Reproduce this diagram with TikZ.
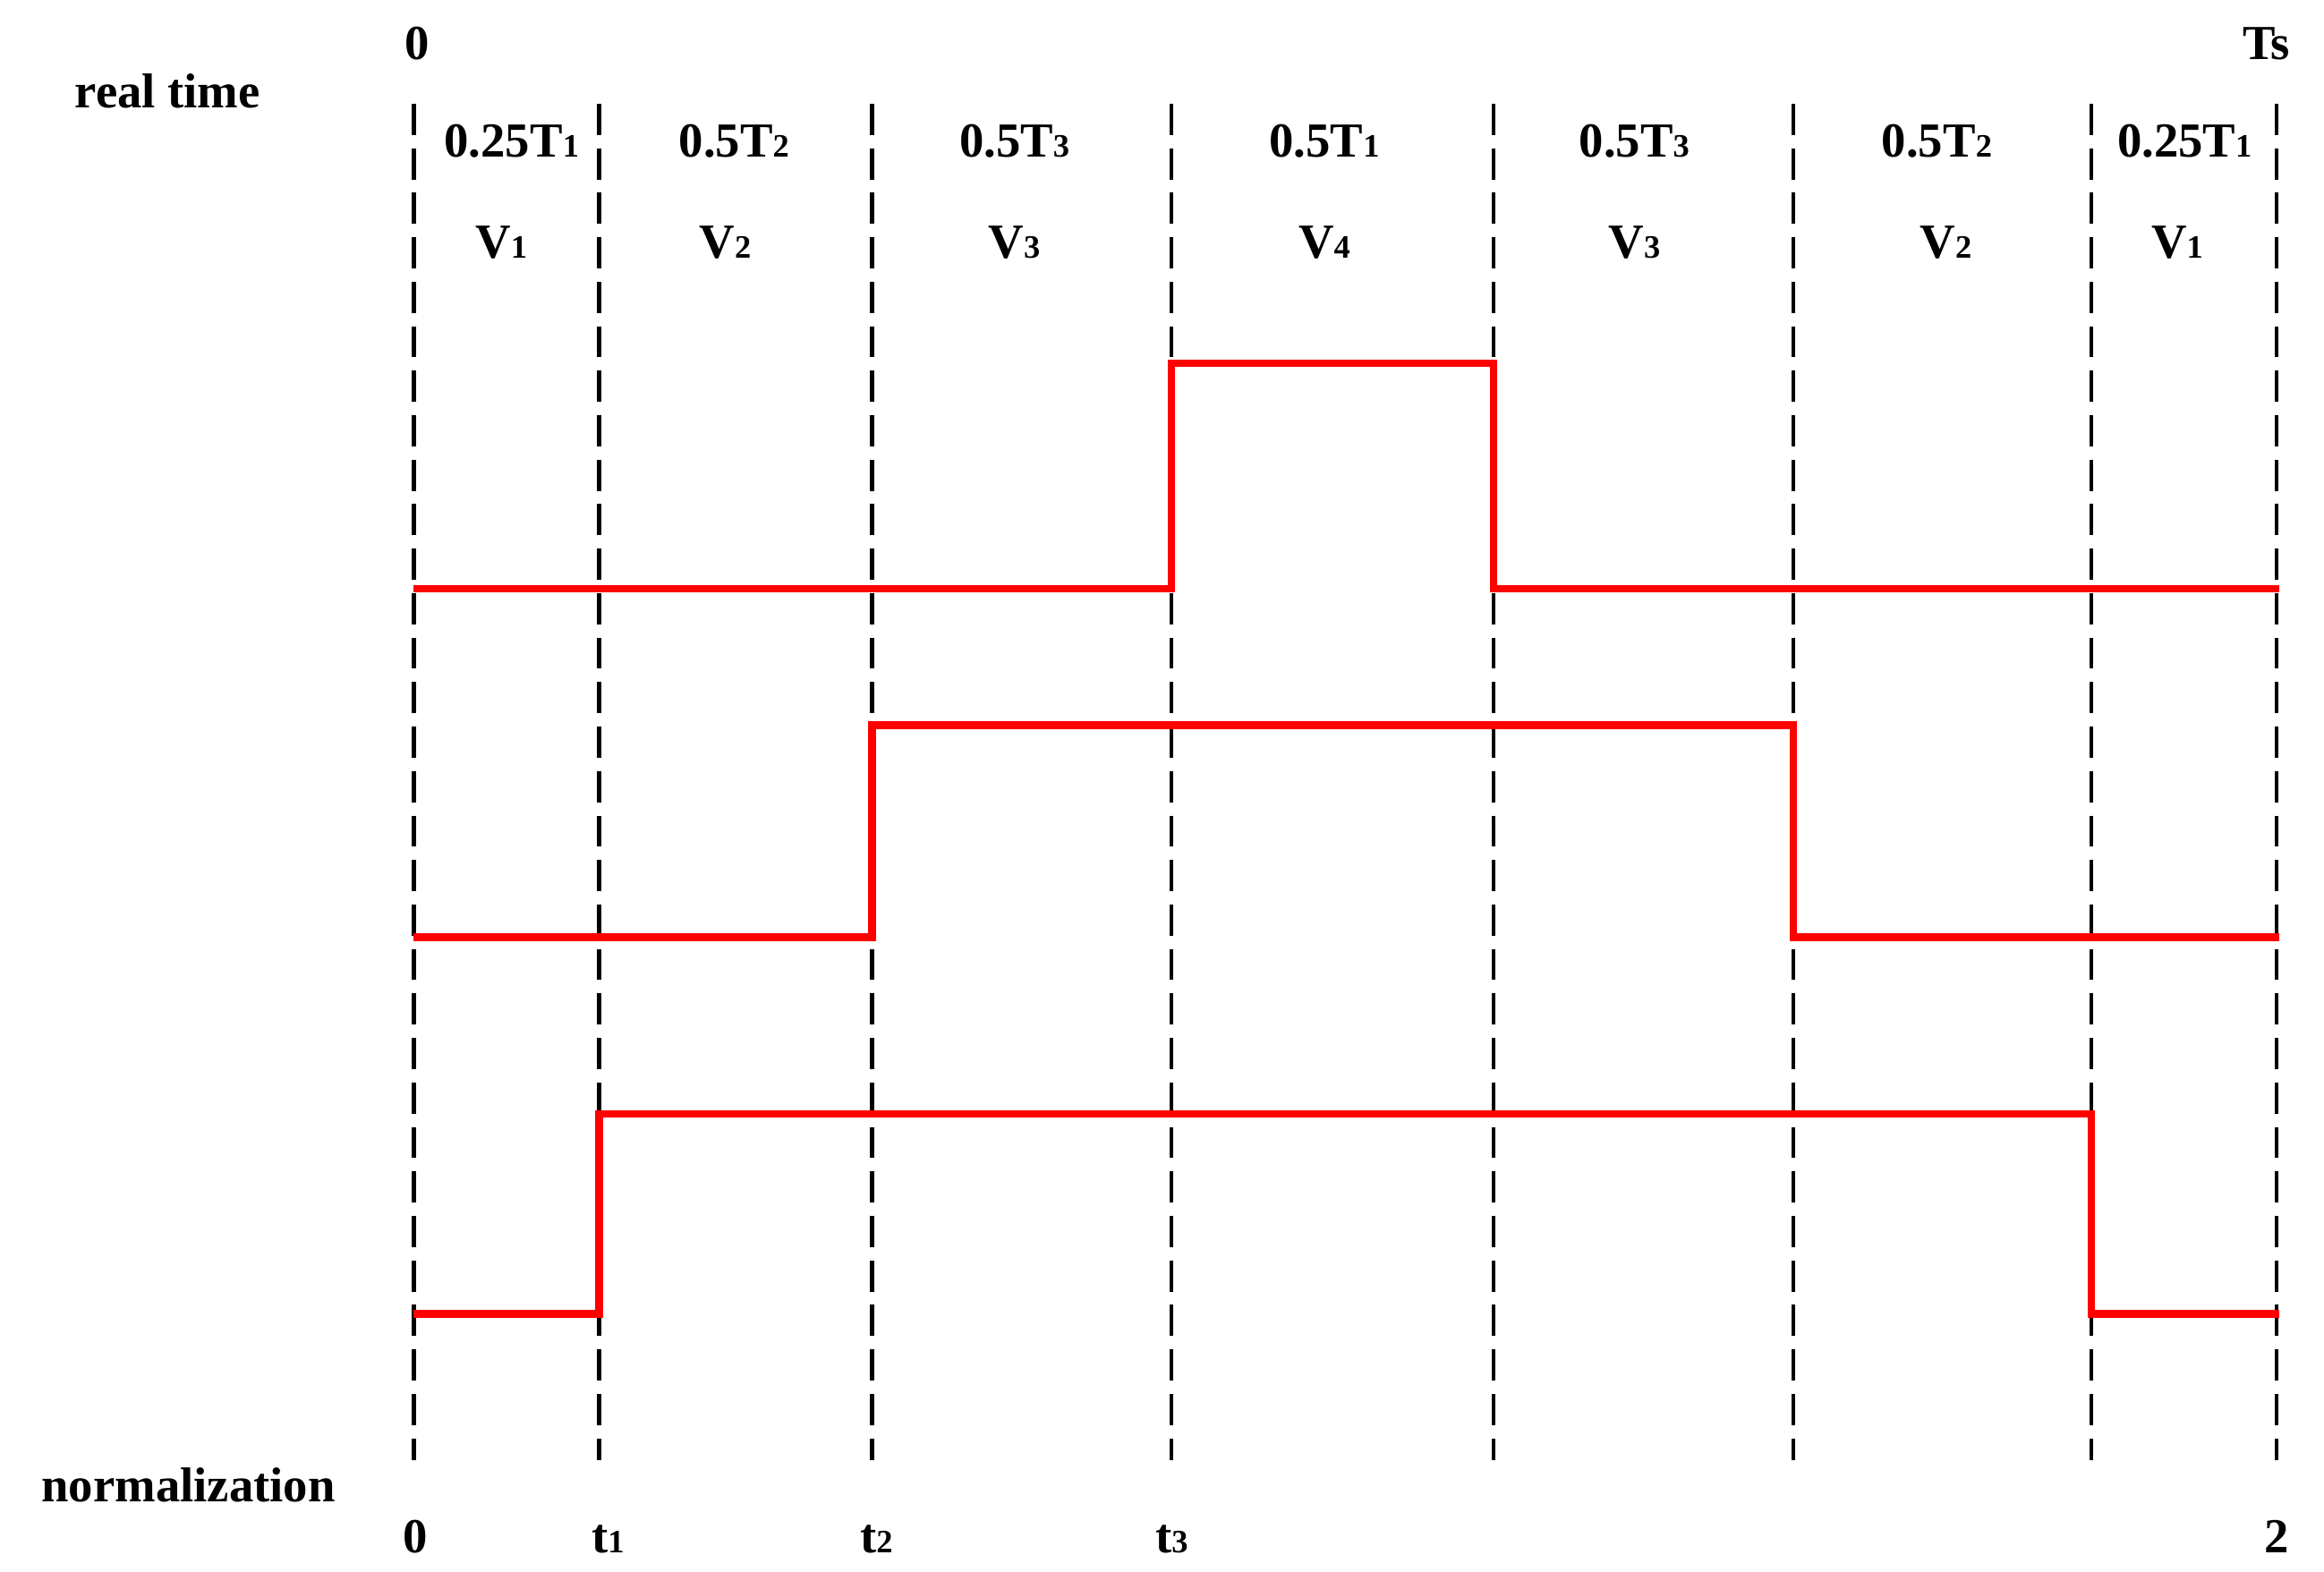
\documentclass[tikz,border=0pt]{standalone}
\usepackage{fontspec}
\setmainfont{Liberation Serif}
\newcommand{\sbs}[1]{{\fontsize{22}{22}\selectfont #1}}
\begin{document}
\begin{tikzpicture}[x=1pt,y=-1pt,
  dl/.style={dash pattern=on 21pt off 9pt, line width=2.6pt},
  wave/.style={red, line width=5pt},
  lab/.style={font=\bfseries\fontsize{33}{33}\selectfont, inner sep=0pt, anchor=base}]
\useasboundingbox (0,0) rectangle (1567,1060);
\foreach \x/\n in {279/a,404/b,588/c,790/d,1007/e,1209/f,1410/g,1535/h}
  {\coordinate (\n1) at (\x,70); \coordinate (\n2) at (\x,985); \draw[dl] (\n1) -- (\n2);}
\draw[wave] (279,397) -- (790,397) -- (790,245) -- (1007,245) -- (1007,397) -- (1537,397);
\draw[wave] (279,632) -- (588,632) -- (588,489) -- (1209,489) -- (1209,632) -- (1537,632);
\draw[wave] (279,886) -- (404,886) -- (404,751) -- (1410,751) -- (1410,886) -- (1537,886);
\node[lab] (z0) at (281,40) {0};
\node[lab] (ts) at (1528,40) {Ts};
\node[lab] (rt) at (113,73) {real time};
\node[lab] (nm) at (127,1013) {normalization};
\foreach \x/\t/\n in {345/0.25T\sbs{1}/l1,495/0.5T\sbs{2}/l2,684/0.5T\sbs{3}/l3,893/0.5T\sbs{1}/l4,1102/0.5T\sbs{3}/l5,1306/0.5T\sbs{2}/l6,1473/0.25T\sbs{1}/l7}
  \node[lab] (\n) at (\x,106) {\t};
\foreach \x/\t/\n in {338/V\sbs{1}/v1,489/V\sbs{2}/v2,684/V\sbs{3}/v3,893/V\sbs{4}/v4,1102/V\sbs{3}/v5,1312/V\sbs{2}/v6,1468/V\sbs{1}/v7}
  \node[lab] (\n) at (\x,174) {\t};
\foreach \x/\t/\n in {280/0/b0,410/t\sbs{1}/b1,591/t\sbs{2}/b2,790/t\sbs{3}/b3,1535/2/b4}
  \node[lab] (\n) at (\x,1047) {\t};
\end{tikzpicture}
\end{document}
